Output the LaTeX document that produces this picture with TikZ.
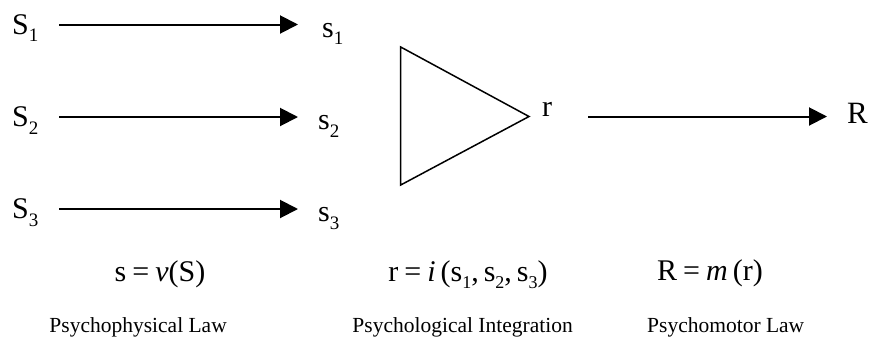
\documentclass[tikz,border=0pt]{standalone}
\usepackage{fontspec}
\setmainfont{Liberation Serif}
\usetikzlibrary{arrows.meta,calc}
\newcommand\bigsz{\fontsize{30}{33}\selectfont}
\newcommand\Rsz{\fontsize{31}{34}\selectfont}
\newcommand\lblsz{\fontsize{21.5}{24}\selectfont}
\newcommand\sbx[1]{\raisebox{-0.26em}{\fontsize{19}{19}\selectfont #1}}
\newcommand\sbf[1]{\raisebox{-0.24em}{\fontsize{18}{18}\selectfont #1}}
\newcommand\eqs{\hspace{0.2em}=\hspace{0.2em}}
\begin{document}
\begin{tikzpicture}[x=1pt,y=-1pt,
  big/.style={font=\bigsz, inner sep=0pt, anchor=base west},
  arr/.style={line width=2pt, -{Triangle[length=18pt,width=18pt]}},
  tri/.style={line width=1.5pt, line join=miter},
  formula/.style={font=\bigsz, inner sep=0pt},
  lbl/.style={font=\lblsz, inner sep=0pt}]
\useasboundingbox (0,0) rectangle (871,338);
% inputs
\node[big] (S1) at (12,34) {S\sbx{1}};
\node[big] (S2) at (12,126.5) {S\sbx{2}};
\node[big] (S3) at (12,218.5) {S\sbx{3}};
% sensations
\node[big] (s1) at (322,37) {s\sbx{1}};
\node[big] (s2) at (318,129.5) {s\sbx{2}};
\node[big] (s3) at (318,221.5) {s\sbx{3}};
% arrows
\draw[arr] ($(S1.base west)+(47,-9.5)$) -- ($(s1.base west)+(-24,-12.5)$);
\draw[arr] ($(S2.base west)+(47,-9.5)$) -- ($(s2.base west)+(-20,-12.5)$);
\draw[arr] ($(S3.base west)+(47,-9.5)$) -- ($(s3.base west)+(-20,-12.5)$);
% integrator
\draw[tri] (400.7,47) -- (529,116.5) -- (400.7,185) -- cycle;
\node[big] (r) at (542,116) {r};
\node[big, font=\Rsz] (R) at (847,123) {R};
\draw[arr] ($(r.base west)+(46,0.5)$) -- ($(R.base west)+(-20,-6.5)$);
% formulas
\node[formula, anchor=base] (f1) at (160,281) {s\eqs\textit{v}(S)};
\node[formula, anchor=base] (f2) at (468,281) {r\eqs\textit{i}\,(s\sbf{1},\,s\sbf{2},\,s\sbf{3})};
\node[formula, anchor=base west] (f3) at (657,280) {R\eqs\textit{m}\,(r)};
% labels
\node[lbl, anchor=base east] (l1) at (227,332) {Psychophysical Law};
\node[lbl, anchor=base east] (l2) at (573,332) {Psychological Integration};
\node[lbl, anchor=base west] (l3) at (647,332) {Psychomotor Law};
\end{tikzpicture}
\end{document}
